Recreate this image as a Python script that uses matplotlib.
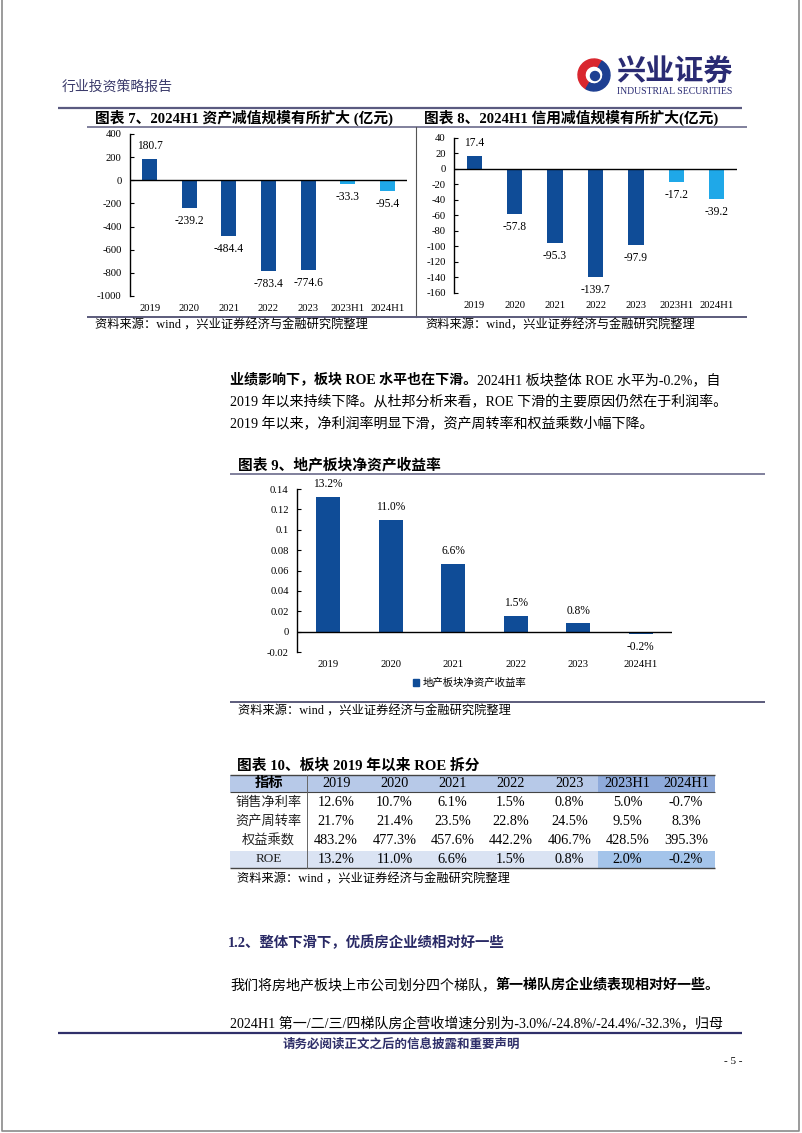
import matplotlib
matplotlib.use('Agg')
import matplotlib.pyplot as plt
from matplotlib.patches import Rectangle, Wedge, Circle

plt.rcParams['axes.unicode_minus'] = False
SER = ['Liberation Serif', 'Noto Sans CJK SC']
CJK = ['Noto Sans CJK SC', 'Liberation Serif']
plt.rcParams['font.family'] = SER

W, H = 802, 1133
DARK = '#0f4c97'
LIGHT = '#1fa8e8'
NAVY = '#2d2d6b'

# 图表7 / 图表8
years7 = ['2019', '2020', '2021', '2022', '2023', '2023H1', '2024H1']
impair_asset = [180.7, -239.2, -484.4, -783.4, -774.6, -33.3, -95.4]
impair_credit = [17.4, -57.8, -95.3, -139.7, -97.9, -17.2, -39.2]
# 图表9
years9 = ['2019', '2020', '2021', '2022', '2023', '2024H1']
roe = [0.132, 0.110, 0.066, 0.015, 0.008, -0.002]
# 图表10
tbl_cols = ['指标', '2019', '2020', '2021', '2022', '2023', '2023H1', '2024H1']
tbl_rows = ['销售净利率', '资产周转率', '权益乘数', 'ROE']
tbl_vals = [
    ['12.6%', '10.7%', '6.1%', '1.5%', '0.8%', '5.0%', '-0.7%'],
    ['21.7%', '21.4%', '23.5%', '22.8%', '24.5%', '9.5%', '8.3%'],
    ['483.2%', '477.3%', '457.6%', '442.2%', '406.7%', '428.5%', '395.3%'],
    ['13.2%', '11.0%', '6.6%', '1.5%', '0.8%', '2.0%', '-0.2%'],
]

fig = plt.figure(figsize=(W / 100, H / 100), dpi=100)
fig.patch.set_facecolor('white')
pg = fig.add_axes([0, 0, 1, 1])
pg.set_xlim(0, W)
pg.set_ylim(H, 0)
pg.axis('off')


def txt(x, y, s, size, bold=False, color='black', ha='left', fam=SER, **kw):
    return pg.text(x, y, s, fontsize=size, fontweight=bold if isinstance(bold, str) else ('bold' if bold else 'normal'),
                   color=color, ha=ha, va='center', family=fam, **kw)


def runs(x, y, parts, size, color='black'):
    r = fig.canvas.get_renderer()
    for s, b in parts:
        t = txt(x, y, s, size, b, color)
        x += t.get_window_extent(renderer=r).width


def hline(y, x0, x1, color, lw):
    pg.plot([x0, x1], [y, y], color=color, lw=lw, solid_capstyle='butt')


def box(x0, y0, x1, y1):
    return fig.add_axes([x0 / W, 1 - y1 / H, (x1 - x0) / W, (y1 - y0) / H])


def barchart(ax, cats, vals, colors, ylim, yticks, fmt, fs=7.7):
    xs = list(range(len(cats)))
    ax.bar(xs, vals, width=0.38, color=colors, zorder=2)
    ax.axhline(0, color='black', lw=1, zorder=3)
    ax.set_xlim(-0.5, len(cats) - 0.5)
    ax.set_ylim(*ylim)
    ax.set_yticks(yticks)
    ax.set_xticks(xs)
    ax.set_xticklabels(cats)
    for sp in ['top', 'right', 'bottom']:
        ax.spines[sp].set_visible(False)
    ax.spines['left'].set_linewidth(1)
    ax.tick_params(axis='y', direction='in', length=3, labelsize=fs, pad=6)
    ax.tick_params(axis='x', length=0, labelsize=fs, pad=6)
    for xi, v in zip(xs, vals):
        ax.annotate(fmt(v), (xi, v), xytext=(0, 5 if v >= 0 else -5),
                    textcoords='offset points', ha='center',
                    va='bottom' if v >= 0 else 'top', fontsize=8.3)


# page border
pg.plot([1.5, 1.5, 799, 799], [-5, 1131, 1131, -5], color='#8a8a8a', lw=1.2)

# header
txt(62, 87, '行业投资策略报告', 10, color='#3b3b6b', fam=CJK)
cx, cy = 594, 75
pg.add_patch(Wedge((cx, cy), 16, 120, 300, width=7, color='#d9262e'))
pg.add_patch(Wedge((cx, cy), 16, -60, 120, width=7, color='#1d3f92'))
pg.add_patch(Circle((cx + 1, cy + 1), 4.5, color='#1d3f92'))
txt(616, 72, '兴业证券', 21, bold='heavy', color='#2a2b73', fam=CJK)
txt(617, 92, 'INDUSTRIAL SECURITIES', 7.0, color='#2a2b73')
hline(108, 58, 742, '#5a5a80', 1.6)

# chart 7 & 8 frame
txt(95, 118, '图表 7、2024H1 资产减值规模有所扩大 (亿元)', 10.6, bold=True)
txt(424, 118, '图表 8、2024H1 信用减值规模有所扩大(亿元)', 10.6, bold=True)
hline(127, 87, 747, '#6b6b8b', 1.2)
pg.plot([416, 416], [127, 317], color='#555555', lw=0.8)
hline(317, 87, 747, '#5b5b7b', 1.4)
txt(95, 326, '资料来源：wind ，兴业证券经济与金融研究院整理', 8.8)
txt(425, 326, '资料来源：wind，兴业证券经济与金融研究院整理', 8.8)

ax7 = box(130, 134, 407, 296)
barchart(ax7, years7, impair_asset, [DARK] * 5 + [LIGHT] * 2, (-1000, 400),
         range(-1000, 401, 200), lambda v: f'{v:.1f}')
ax8 = box(454, 138, 737, 293)
barchart(ax8, years7, impair_credit, [DARK] * 5 + [LIGHT] * 2, (-160, 40),
         range(-160, 41, 20), lambda v: f'{v:.1f}')

# body text
runs(230, 380, [('业绩影响下，板块 ROE 水平也在下滑。', True),
                ('2024H1 板块整体 ROE 水平为-0.2%，自', False)], 10.1)
txt(230, 402, '2019 年以来持续下降。从杜邦分析来看，ROE 下滑的主要原因仍然在于利润率。', 10.1)
txt(230, 424, '2019 年以来，净利润率明显下滑，资产周转率和权益乘数小幅下降。', 10.1)

# chart 9
txt(238, 465, '图表 9、地产板块净资产收益率', 10.6, bold=True)
hline(474, 230, 765, '#6b6b8b', 1.2)
ax9 = box(297, 489, 672, 652)
ticks9 = [-0.02, 0, 0.02, 0.04, 0.06, 0.08, 0.1, 0.12, 0.14]
barchart(ax9, years9, roe, DARK, (-0.02, 0.14), ticks9, lambda v: f'{v * 100:.1f}%')
ax9.set_yticklabels([f'{t:g}' for t in ticks9])
ax9.legend([Rectangle((0, 0), 1, 1, color=DARK)], ['地产板块净资产收益率'],
           loc='center', bbox_to_anchor=(0.46, -0.19), frameon=False,
           handlelength=0.6, handleheight=0.6, handletextpad=0.3,
           prop={'family': CJK, 'size': 7.5})
hline(702, 230, 765, '#5b5b7b', 1.4)
txt(238, 712, '资料来源：wind ，兴业证券经济与金融研究院整理', 8.8)

# table 10
txt(237, 765, '图表 10、板块 2019 年以来 ROE 拆分', 10.6, bold=True)
x0, xd, cw = 230, 307, (715 - 307) / 7
ytop, yh = 775, 792
row_edges = [792, 812, 831, 851, 868]
hdr_col = ['#b7c9e8'] * 6 + ['#8eaadb'] * 2
roe_col = ['#dae3f3'] * 6 + ['#a4c4ea'] * 2
for j, c in enumerate(tbl_cols):
    left = x0 if j == 0 else xd + (j - 1) * cw
    right = xd if j == 0 else xd + j * cw
    pg.add_patch(Rectangle((left, ytop), right - left, yh - ytop, color=hdr_col[j], lw=0))
    pg.add_patch(Rectangle((left, row_edges[3]), right - left,
                           row_edges[4] - row_edges[3], color=roe_col[j], lw=0))
    txt((left + right) / 2, (ytop + yh) / 2, c, 10.3, bold=(j == 0), ha='center')
for i, rname in enumerate(tbl_rows):
    yc = (row_edges[i] + row_edges[i + 1]) / 2
    txt((x0 + xd) / 2, yc, rname, 9.5, ha='center',
        fam=CJK if i < 3 else SER, color='#222222')
    for j, v in enumerate(tbl_vals[i]):
        txt(xd + (j + 0.5) * cw, yc, v, 10.3, ha='center')
hline(ytop, x0, 715, '#444444', 1.0)
hline(yh, x0, 715, '#444444', 0.8)
hline(row_edges[4], x0, 715, '#444444', 1.0)
pg.plot([xd, xd], [ytop, row_edges[4]], color='#666666', lw=0.7)
txt(237, 880, '资料来源：wind ，兴业证券经济与金融研究院整理', 8.8)

# section 1.2
txt(228, 943, '1.2、整体下滑下，优质房企业绩相对好一些', 10.4, bold=True, color='#2a2a66')
runs(230, 985, [('我们将房地产板块上市公司划分四个梯队，', False),
                ('第一梯队房企业绩表现相对好一些。', True)], 10.1)
txt(230, 1024, '2024H1 第一/二/三/四梯队房企营收增速分别为-3.0%/-24.8%/-24.4%/-32.3%，归母', 10.1)

# footer
hline(1033, 58, 742, '#30306a', 1.6)
txt(401, 1044, '请务必阅读正文之后的信息披露和重要声明', 9, bold=True, color='#30306a',
    ha='center', fam=CJK)
txt(742, 1062, '- 5 -', 8, ha='right')

fig.savefig('out.png', dpi=100, facecolor='white')
